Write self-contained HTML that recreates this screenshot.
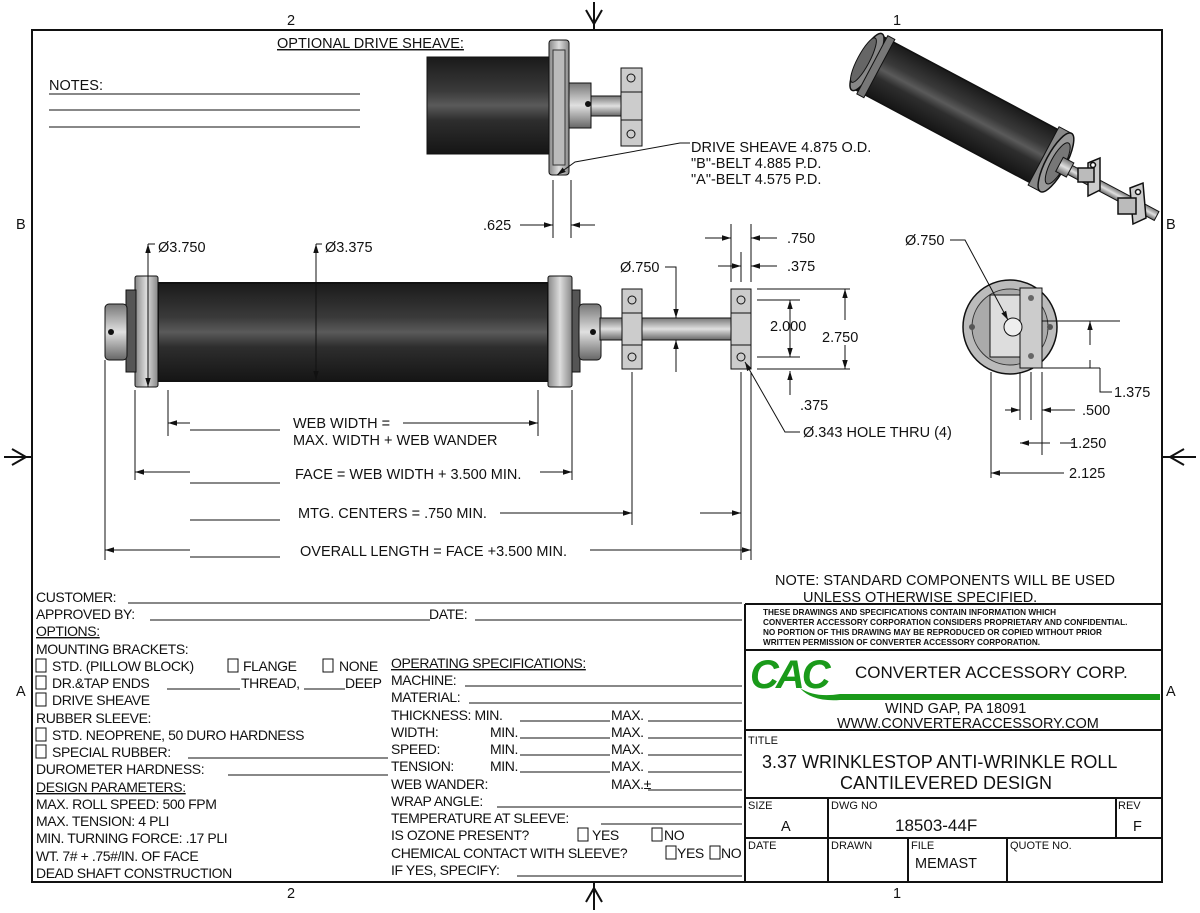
<!DOCTYPE html>
<html><head><meta charset="utf-8"><style>
html,body{margin:0;padding:0;background:#fff;}
svg{display:block;font-family:"Liberation Sans",Arial,sans-serif;}
.t{font-size:14.5px;fill:#111;}
.s{font-size:14px;fill:#111;}
.ln{stroke:#111;stroke-width:1;fill:none;}
</style></head><body>
<svg width="1200" height="913" viewBox="0 0 1200 913" xmlns="http://www.w3.org/2000/svg">
<defs>
<linearGradient id="roll" x1="0" y1="0" x2="0" y2="1">
<stop offset="0" stop-color="#1a1a1a"/><stop offset="0.35" stop-color="#3a3a3a"/><stop offset="0.5" stop-color="#5a5a5a"/><stop offset="0.65" stop-color="#2e2e2e"/><stop offset="1" stop-color="#151515"/></linearGradient>
<linearGradient id="met" x1="0" y1="0" x2="0" y2="1">
<stop offset="0" stop-color="#777"/><stop offset="0.5" stop-color="#e0e0e0"/><stop offset="1" stop-color="#666"/></linearGradient>
<linearGradient id="metx" x1="0" y1="0" x2="1" y2="0">
<stop offset="0" stop-color="#888"/><stop offset="0.5" stop-color="#ddd"/><stop offset="1" stop-color="#888"/></linearGradient>
<marker id="ar" viewBox="0 0 10 10" refX="10" refY="5" markerWidth="9" markerHeight="9" orient="auto-start-reverse"><path d="M0,2L10,5L0,8z" fill="#111"/></marker>
</defs>
<rect x="32" y="30" width="1130" height="852" fill="none" stroke="#111" stroke-width="2"/>
<text x="287" y="25" class="t">2</text><text x="893" y="25" class="t">1</text>
<text x="287" y="898" class="t">2</text><text x="893" y="898" class="t">1</text>
<text x="16" y="229" class="t">B</text><text x="1166" y="229" class="t">B</text>
<text x="16" y="696" class="t">A</text><text x="1166" y="696" class="t">A</text>
<g stroke="#111" stroke-width="2" fill="none">
<path d="M594 2V30M586 10L594 24L602 10"/>
<path d="M594 882V910M586 902L594 888L602 902"/>
<path d="M4 457H32M12 449L26 457L12 465"/>
<path d="M1162 457H1196M1184 449L1170 457L1184 465"/>
</g>
<text x="277" y="48" class="t" text-decoration="underline">OPTIONAL DRIVE SHEAVE:</text>
<text x="49" y="90" class="t">NOTES:</text>
<path class="ln" d="M49 94H360M49 110H360M49 127H360"/>
<rect x="427" y="57" width="122" height="97" fill="url(#roll)" stroke="#111"/>
<rect x="549" y="40" width="20" height="135" rx="3" fill="url(#metx)" stroke="#111"/>
<rect x="553" y="50" width="12" height="115" fill="#bbb" stroke="#333"/>
<rect x="569" y="83" width="22" height="45" fill="url(#met)" stroke="#111"/>
<rect x="591" y="96" width="30" height="20" fill="url(#met)" stroke="#111"/>
<circle cx="588" cy="104" r="3" fill="#111"/>
<rect x="621" y="68" width="21" height="78" fill="#ccc" stroke="#111"/>
<circle cx="631" cy="78" r="4" fill="none" stroke="#111"/><circle cx="631" cy="134" r="4" fill="none" stroke="#111"/>
<path class="ln" d="M621 92H642M621 120H642"/>
<path class="ln" d="M557 175L575 162 680 143H690" marker-start="url(#ar)"/>
<text x="691" y="152" class="t">DRIVE SHEAVE 4.875 O.D.</text>
<text x="691" y="168" class="t">"B"-BELT  4.885 P.D.</text>
<text x="691" y="184" class="t">"A"-BELT  4.575 P.D.</text>
<path class="ln" d="M553 180V238M571 180V238"/>
<path class="ln" d="M520 225H553" marker-end="url(#ar)"/><path class="ln" d="M595 225H571" marker-end="url(#ar)"/>
<text x="483" y="230" class="t">.625</text>
<rect x="158" y="283" width="390" height="98" fill="url(#roll)" stroke="#111" stroke-width="2"/>
<rect x="135" y="276" width="23" height="111" rx="2" fill="url(#metx)" stroke="#111"/>
<rect x="548" y="276" width="24" height="111" rx="2" fill="url(#metx)" stroke="#111"/>
<rect x="126" y="290" width="10" height="82" fill="#555" stroke="#111"/>
<rect x="572" y="290" width="8" height="82" fill="#555" stroke="#111"/>
<rect x="105" y="304" width="22" height="56" rx="4" fill="url(#met)" stroke="#111"/>
<circle cx="111" cy="332" r="3" fill="#111"/>
<rect x="579" y="304" width="22" height="56" rx="4" fill="url(#met)" stroke="#111"/>
<circle cx="593" cy="332" r="3" fill="#111"/>
<rect x="600" y="318" width="132" height="22" fill="url(#met)" stroke="#111"/>
<rect x="622" y="289" width="20" height="80" fill="#ccc" stroke="#111"/>
<rect x="731" y="289" width="20" height="80" fill="#ccc" stroke="#111"/>
<path class="ln" d="M622 313H642M622 345H642M731 313H751M731 345H751"/>
<circle cx="632" cy="300" r="4" fill="none" stroke="#111"/><circle cx="632" cy="357" r="4" fill="none" stroke="#111"/>
<circle cx="741" cy="300" r="4" fill="none" stroke="#111"/><circle cx="741" cy="357" r="4" fill="none" stroke="#111"/>
<path class="ln" d="M148 244V387" marker-start="url(#ar)" marker-end="url(#ar)"/>
<path class="ln" d="M148 244H155"/><text x="158" y="252" class="t">Ø3.750</text>
<path class="ln" d="M316 244V380" marker-start="url(#ar)" marker-end="url(#ar)"/>
<path class="ln" d="M316 244H322"/><text x="325" y="252" class="t">Ø3.375</text>
<text x="620" y="272" class="t">Ø.750</text>
<path class="ln" d="M665 267H676V318" marker-end="url(#ar)"/><path class="ln" d="M676 372V340" marker-end="url(#ar)"/>
<path class="ln" d="M731 224V282M741 252V282M751 224V282"/>
<path class="ln" d="M705 238H731" marker-end="url(#ar)"/><path class="ln" d="M777 238H751" marker-end="url(#ar)"/>
<text x="787" y="243" class="t">.750</text>
<path class="ln" d="M718 266H741" marker-end="url(#ar)"/><path class="ln" d="M777 266H751" marker-end="url(#ar)"/>
<text x="787" y="271" class="t">.375</text>
<path class="ln" d="M757 289H850M757 300H800M757 357H800M757 369H850"/>
<path class="ln" d="M790 330V300" marker-end="url(#ar)"/><path class="ln" d="M790 330V357" marker-end="url(#ar)"/>
<text x="770" y="331" class="t">2.000</text>
<path class="ln" d="M845 320V289" marker-end="url(#ar)"/><path class="ln" d="M845 345V369" marker-end="url(#ar)"/>
<text x="822" y="342" class="t">2.750</text>
<path class="ln" d="M790 395V371" marker-end="url(#ar)"/><text x="800" y="410" class="t">.375</text>
<path class="ln" d="M800 432H785L745 362" marker-end="url(#ar)"/>
<text x="803" y="437" class="t">Ø.343 HOLE THRU (4)</text>
<path class="ln" d="M105 360V560M135 390V480M168 390V436M538 390V436M572 390V480M632 372V525M741 372V560M751 372V560"/>
<path class="ln" d="M190 430H280M190 483H280M190 520H280M190 557H280"/>
<text x="293" y="428" class="t">WEB WIDTH =</text>
<path class="ln" d="M403 423H538" marker-end="url(#ar)"/>
<path class="ln" d="M190 423H168" marker-end="url(#ar)"/>
<text x="293" y="445" class="t">MAX. WIDTH + WEB WANDER</text>
<text x="295" y="479" class="t">FACE = WEB WIDTH + 3.500 MIN.</text>
<path class="ln" d="M190 472H135" marker-end="url(#ar)"/><path class="ln" d="M540 472H572" marker-end="url(#ar)"/>
<text x="298" y="518" class="t">MTG. CENTERS = .750 MIN.</text>
<path class="ln" d="M500 513H632" marker-end="url(#ar)"/><path class="ln" d="M700 513H741" marker-end="url(#ar)"/>
<text x="300" y="556" class="t">OVERALL LENGTH = FACE +3.500 MIN.</text>
<path class="ln" d="M190 550H105" marker-end="url(#ar)"/><path class="ln" d="M590 550H751" marker-end="url(#ar)"/>
<circle cx="1010" cy="327" r="47" fill="#bbb" stroke="#111" stroke-width="1.5"/>
<circle cx="1010" cy="327" r="38" fill="#aaa" stroke="#333"/>
<rect x="990" y="295" width="30" height="62" fill="#ddd" stroke="#111"/>
<rect x="1020" y="288" width="22" height="80" fill="#ccc" stroke="#111"/>
<circle cx="1013" cy="327" r="9" fill="#eee" stroke="#111"/>
<circle cx="1031" cy="298" r="3" fill="#666"/><circle cx="1031" cy="356" r="3" fill="#666"/>
<circle cx="972" cy="327" r="3" fill="#555"/><circle cx="1050" cy="327" r="3" fill="#555"/>
<text x="905" y="245" class="t">Ø.750</text>
<path class="ln" d="M950 240H965L1008 320" marker-end="url(#ar)"/>
<path class="ln" d="M1042 321H1120M1042 368H1100"/>
<path class="ln" d="M1090 345V321" marker-end="url(#ar)"/><path class="ln" d="M1090 360V368" />
<path class="ln" d="M1100 368V392H1112"/><text x="1114" y="397" class="t">1.375</text>
<path class="ln" d="M1020 372V420M1031 372V420M1042 372V455M991 372V478"/>
<path class="ln" d="M1005 410H1020" marker-end="url(#ar)"/><path class="ln" d="M1075 410H1042" marker-end="url(#ar)"/>
<text x="1082" y="415" class="t">.500</text>
<path class="ln" d="M1050 443H1020" marker-end="url(#ar)"/><path class="ln" d="M1060 443H1075"/>
<text x="1070" y="448" class="t">1.250</text>
<path class="ln" d="M1050 473H991" marker-end="url(#ar)"/><path class="ln" d="M1050 473H1064"/>
<text x="1069" y="478" class="t">2.125</text>
<g transform="translate(867,62) rotate(28)">
<rect x="228" y="-5" width="100" height="10" fill="url(#met)" stroke="#111"/>
<rect x="0" y="-30" width="212" height="60" fill="url(#roll)" stroke="#111" stroke-width="1.5"/>
<ellipse cx="0" cy="0" rx="9" ry="32" fill="#888" stroke="#111" stroke-width="1.5"/>
<ellipse cx="-4" cy="0" rx="6" ry="25" fill="#666" stroke="#111"/>
<rect x="6" y="-33" width="8" height="66" fill="#777" stroke="#111"/>
<rect x="200" y="-33" width="14" height="66" fill="#888" stroke="#111"/>
<ellipse cx="214" cy="0" rx="10" ry="33" fill="#999" stroke="#111" stroke-width="1.5"/>
<ellipse cx="216" cy="0" rx="7" ry="23" fill="#777" stroke="#111"/>
<rect x="218" y="-8" width="12" height="16" fill="url(#met)" stroke="#111"/>
</g>
<g stroke="#111" stroke-width="1.5" fill="#ccc">
<path d="M1088 163L1100 158L1100 190L1088 196Z"/>
<rect x="1078" y="168" width="16" height="14" fill="#bbb"/>
<path d="M1130 188L1143 183L1146 218L1133 224Z"/>
<rect x="1118" y="198" width="18" height="16" fill="#bbb"/>
<circle cx="1093" cy="165" r="2.5" fill="#fff"/><circle cx="1138" cy="192" r="2.5" fill="#fff"/>
</g>
<text x="775" y="585" class="t">NOTE: STANDARD COMPONENTS WILL BE USED</text>
<text x="803" y="602" class="t">UNLESS OTHERWISE SPECIFIED.</text>
<g stroke="#111" stroke-width="2" fill="none">
<path d="M745 604H1162M745 650H1162M745 730H1162M745 798H1162M745 838H1162M745 604V882"/>
<path d="M828 798V882M1116 798V838M908 838V882M1007 838V882"/>
</g>
<g font-size="8.2" font-weight="bold" fill="#111">
<text x="763" y="615">THESE DRAWINGS AND SPECIFICATIONS CONTAIN INFORMATION WHICH</text>
<text x="763" y="625">CONVERTER ACCESSORY CORPORATION CONSIDERS PROPRIETARY AND CONFIDENTIAL.</text>
<text x="763" y="635">NO PORTION OF THIS DRAWING MAY BE REPRODUCED OR COPIED WITHOUT PRIOR</text>
<text x="763" y="645">WRITTEN PERMISSION OF CONVERTER ACCESSORY CORPORATION.</text>
</g>
<text x="750" y="688" font-size="40" font-weight="900" font-style="italic" fill="#1a9a1a" letter-spacing="-3">CAC</text>
<path d="M800 688Q815 698 840 694H1160V700H840Q812 702 800 688z" fill="#1a9a1a"/>
<text x="855" y="678" font-size="17" fill="#111">CONVERTER ACCESSORY CORP.</text>
<text x="885" y="713" class="t">WIND GAP, PA 18091</text>
<text x="837" y="728" class="t">WWW.CONVERTERACCESSORY.COM</text>
<text x="748" y="744" font-size="11" fill="#111">TITLE</text>
<text x="762" y="768" font-size="18" fill="#111">3.37 WRINKLESTOP ANTI-WRINKLE ROLL</text>
<text x="840" y="789" font-size="18" fill="#111">CANTILEVERED DESIGN</text>
<g font-size="11" fill="#111">
<text x="748" y="809">SIZE</text><text x="831" y="809">DWG NO</text><text x="1118" y="809">REV</text>
<text x="748" y="849">DATE</text><text x="831" y="849">DRAWN</text><text x="911" y="849">FILE</text><text x="1010" y="849">QUOTE NO.</text>
</g>
<text x="781" y="831" class="t">A</text><text x="895" y="831" font-size="17" fill="#111">18503-44F</text><text x="1133" y="831" class="t">F</text>
<text x="915" y="868" class="t">MEMAST</text>
<g class="s" font-size="14.5" letter-spacing="-0.4">
<text x="36" y="602">CUSTOMER:</text>
<text x="36" y="619">APPROVED BY:</text><text x="429" y="619">DATE:</text>
<text x="36" y="636" text-decoration="underline">OPTIONS:</text>
<text x="36" y="654">MOUNTING BRACKETS:</text>
<text x="52" y="671">STD. (PILLOW BLOCK)</text><text x="243" y="671">FLANGE</text><text x="339" y="671">NONE</text>
<text x="52" y="688">DR.&amp;TAP ENDS</text><text x="241" y="688">THREAD,</text><text x="345" y="688">DEEP</text>
<text x="52" y="705">DRIVE SHEAVE</text>
<text x="36" y="723">RUBBER SLEEVE:</text>
<text x="52" y="740">STD. NEOPRENE, 50 DURO HARDNESS</text>
<text x="52" y="757">SPECIAL RUBBER:</text>
<text x="36" y="774">DUROMETER HARDNESS:</text>
<text x="36" y="792" text-decoration="underline">DESIGN PARAMETERS:</text>
<text x="36" y="809">MAX. ROLL SPEED: 500 FPM</text>
<text x="36" y="826">MAX. TENSION: 4 PLI</text>
<text x="36" y="843">MIN. TURNING FORCE:  .17 PLI</text>
<text x="36" y="861">WT. 7# + .75#/IN. OF FACE</text>
<text x="36" y="878">DEAD SHAFT CONSTRUCTION</text>
<text x="391" y="668" text-decoration="underline">OPERATING SPECIFICATIONS:</text>
<text x="391" y="685">MACHINE:</text>
<text x="391" y="702">MATERIAL:</text>
<text x="391" y="720">THICKNESS:  MIN.</text><text x="611" y="720">MAX.</text>
<text x="391" y="737">WIDTH:</text><text x="490" y="737">MIN.</text><text x="611" y="737">MAX.</text>
<text x="391" y="754">SPEED:</text><text x="490" y="754">MIN.</text><text x="611" y="754">MAX.</text>
<text x="391" y="771">TENSION:</text><text x="490" y="771">MIN.</text><text x="611" y="771">MAX.</text>
<text x="391" y="789">WEB WANDER:</text><text x="611" y="789">MAX.±</text>
<text x="391" y="806">WRAP ANGLE:</text>
<text x="391" y="823">TEMPERATURE AT SLEEVE:</text>
<text x="391" y="840">IS OZONE PRESENT?</text><text x="592" y="840">YES</text><text x="664" y="840">NO</text>
<text x="391" y="858">CHEMICAL CONTACT WITH SLEEVE?</text><text x="677" y="858">YES</text><text x="721" y="858">NO</text>
<text x="391" y="875">IF YES, SPECIFY:</text>
</g>
<g class="ln">
<path d="M128 603H742M150 620H430M475 620H742M167 689H240M304 689H345M188 758H388M228 775H388"/>
<path d="M465 686H742M469 703H742M520 721H610M648 721H742M520 738H610M648 738H742M520 755H610M648 755H742M520 772H610M648 772H742M648 790H742M497 807H742M601 824H742M517 876H742"/>
<rect x="36" y="659" width="10" height="13"/><rect x="228" y="659" width="10" height="13"/><rect x="323" y="659" width="10" height="13"/>
<rect x="36" y="676" width="10" height="13"/><rect x="36" y="693" width="10" height="13"/>
<rect x="36" y="728" width="10" height="13"/><rect x="36" y="745" width="10" height="13"/>
<rect x="578" y="828" width="10" height="13"/><rect x="652" y="828" width="10" height="13"/>
<rect x="666" y="846" width="10" height="13"/><rect x="710" y="846" width="10" height="13"/>
</g>
</svg>
</body></html>
